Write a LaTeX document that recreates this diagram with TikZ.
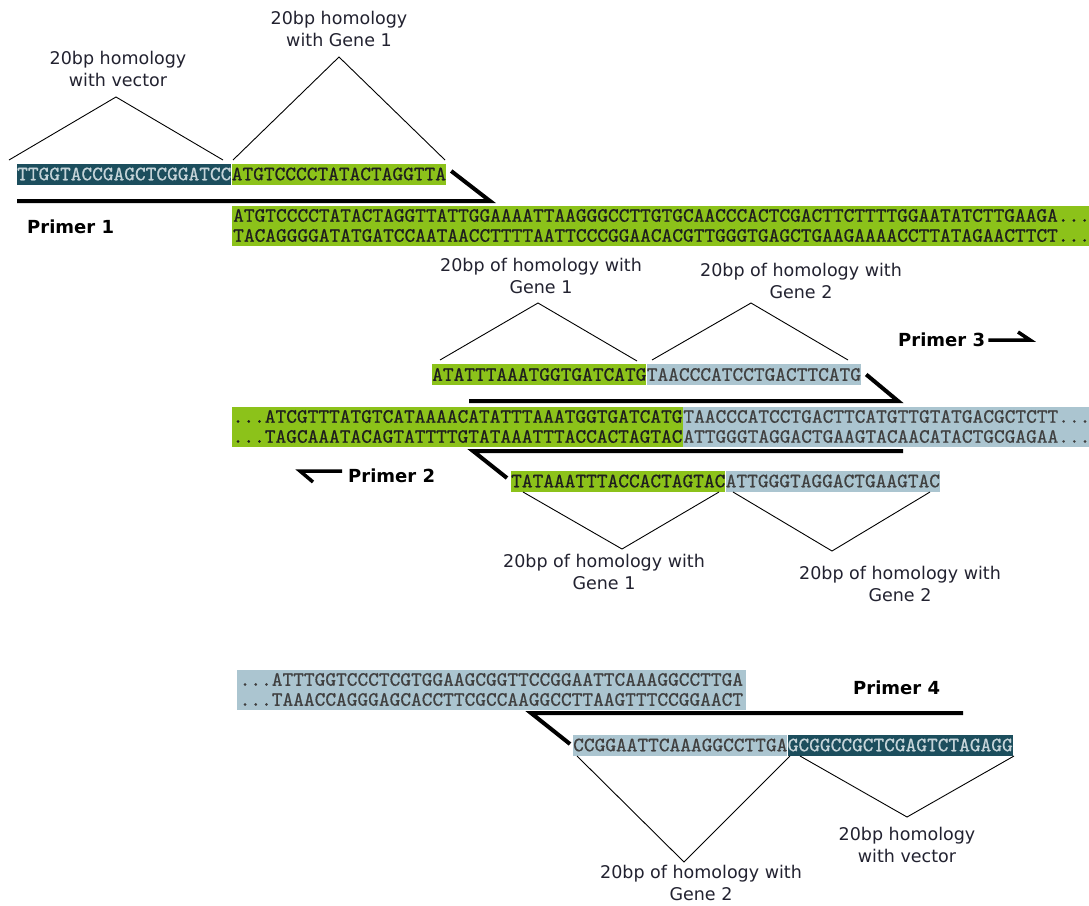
\documentclass[tikz,border=0pt]{standalone}
\usepackage{fontspec}
\setmainfont{DejaVu Sans}
\newfontfamily\seqfont[FakeBold=0.6]{lmmono10-regular.otf}
\newfontfamily\lblfont{DejaVu Sans}
\usetikzlibrary{calc}
\definecolor{gr}{HTML}{8CC21A}
\definecolor{bl}{HTML}{ABC5D0}
\definecolor{tl}{HTML}{1C4E5D}
\definecolor{tltext}{HTML}{C5D4D9}
\definecolor{seqdark}{HTML}{1E1E1E}
\definecolor{lblcol}{HTML}{222230}
\begin{document}
\begin{tikzpicture}[x=1pt,y=-1pt,
  sqf/.style={font=\seqfont\fontsize{20.4}{20}\selectfont},
  oligo/.style={sqf, anchor=west, inner sep=0pt, minimum height=21pt, text height=12.5pt, text depth=0pt, text=seqdark},
  band/.style={sqf, anchor=west, inner ysep=0pt, minimum height=40pt, align=left, text=seqdark},
  lbl/.style={font=\lblfont\fontsize{17.5}{22}\selectfont, align=center, inner sep=0pt, text=lblcol},
  prlbl/.style={font=\lblfont\bfseries\fontsize{18}{22}\selectfont, inner sep=0pt, anchor=west, text=black},
  tri/.style={draw=black, line width=0.9pt},
  primer/.style={draw=black, line width=4pt, line join=miter, line cap=butt},
  harp/.style={draw=black, line width=3.5pt, line join=miter, line cap=butt}
]
\useasboundingbox (0,0) rectangle (1089,905);
\fill[white] (0,0) rectangle (1089,905);

% ---------- Section 1 ----------
\node[lbl] (l1) at (118,69) {20bp homology\\with vector};
\node[lbl] (l2) at (339,29) {20bp homology\\with Gene 1};
\coordinate (t1a) at (9,160);   \coordinate (t1p) at (116,97);  \coordinate (t1b) at (223,160);
\coordinate (t2a) at (233,160); \coordinate (t2p) at (339,57);  \coordinate (t2b) at (445,160);
\draw[tri] (t1a) -- (t1p) -- (t1b);
\draw[tri] (t2a) -- (t2p) -- (t2b);
\node[oligo, fill=tl, text=tltext] (v1) at (17,174) {TTGGTACCGAGCTCGGATCC};
\node[oligo, fill=gr] (g1) at (v1.east) {ATGTCCCCTATACTAGGTTA};
\coordinate (p1tip) at (490,201);
\coordinate (p1end) at (17,201);
\draw[primer] ($(g1.east)+(5,-3)$) -- (p1tip) -- (p1end);
\node[prlbl] (pr1) at (27,227) {Primer 1};
\node[band, fill=gr, inner xsep=1pt, text width=880pt] (b1) at (232,225.5)
  {\mbox{ATGTCCCCTATACTAGGTTATTGGAAAATTAAGGGCCTTGTGCAACCCACTCGACTTCTTTTGGAATATCTTGAAGA...}\\
   \mbox{TACAGGGGATATGATCCAATAACCTTTTAATTCCCGGAACACGTTGGGTGAGCTGAAGAAAACCTTATAGAACTTCT...}};

% ---------- Section 2 ----------
\node[lbl] (l3) at (541,276) {20bp of homology with\\Gene 1};
\node[lbl] (l4) at (801,281) {20bp of homology with\\Gene 2};
\coordinate (t3a) at (440,360); \coordinate (t3p) at (538,303); \coordinate (t3b) at (637,361);
\coordinate (t4a) at (652,360); \coordinate (t4p) at (751,303); \coordinate (t4b) at (848,360);
\draw[tri] (t3a) -- (t3p) -- (t3b);
\draw[tri] (t4a) -- (t4p) -- (t4b);
\node[oligo, fill=gr] (g2) at (432,374.5) {ATATTTAAATGGTGATCATG};
\node[oligo, fill=bl, text=seqdark!85] (b2) at (g2.east) {TAACCCATCCTGACTTCATG};
\coordinate (p3tip) at (898,401);
\coordinate (p3end) at (469,401);
\draw[primer] ($(b2.east)+(5,0)$) -- (p3tip) -- (p3end);
\node[prlbl] (pr3) at (898,340) {Primer 3};
\coordinate (a3tip) at (1030,340);
\draw[harp] ($(pr3.east)+(3,0)$) -- (a3tip) -- ($(a3tip)+(-12,-8)$);

\node[band, fill=gr, inner xsep=0.5pt] (bm1) at (232,426.5)
  {\mbox{...ATCGTTTATGTCATAAAACATATTTAAATGGTGATCATG}\\
   \mbox{...TAGCAAATACAGTATTTTGTATAAATTTACCACTAGTAC}};
\node[band, fill=bl, inner xsep=0pt, text width=430pt, text=seqdark!85] (bm2) at (bm1.east)
  {\mbox{TAACCCATCCTGACTTCATGTTGTATGACGCTCTT...}\\
   \mbox{ATTGGGTAGGACTGAAGTACAACATACTGCGAGAA...}};

\node[oligo, fill=gr] (g3) at (511,481) {TATAAATTTACCACTAGTAC};
\node[oligo, fill=bl, text=seqdark!85] (b3) at (g3.east) {ATTGGGTAGGACTGAAGTAC};
\coordinate (p2tip) at (473,451);
\coordinate (p2end) at (903,451);
\draw[primer] ($(g3.west)+(-4,-3)$) -- (p2tip) -- (p2end);
\node[prlbl] (pr2) at (348,476) {Primer 2};
\coordinate (a2tip) at (300,471);
\draw[harp] ($(pr2.west)+(-6,-5)$) -- (a2tip) -- ($(a2tip)+(13,11)$);

\coordinate (t5a) at (523,492); \coordinate (t5p) at (622,549); \coordinate (t5b) at (719,492);
\coordinate (t6a) at (733,492); \coordinate (t6p) at (832,551); \coordinate (t6b) at (930,492);
\draw[tri] (t5a) -- (t5p) -- (t5b);
\draw[tri] (t6a) -- (t6p) -- (t6b);
\node[lbl] (l5) at (604,572) {20bp of homology with\\Gene 1};
\node[lbl] (l6) at (900,584) {20bp of homology with\\Gene 2};

% ---------- Section 3 ----------
\node[band, fill=bl, inner xsep=2.5pt, text width=504pt, text=seqdark!85] (b4) at (237,689.5)
  {\mbox{...ATTTGGTCCCTCGTGGAAGCGGTTCCGGAATTCAAAGGCCTTGA}\\
   \mbox{...TAAACCAGGGAGCACCTTCGCCAAGGCCTTAAGTTTCCGGAACT}};
\node[prlbl] (pr4) at (853,688) {Primer 4};
\node[oligo, fill=bl, text=seqdark!85] (b5) at (573,745) {CCGGAATTCAAAGGCCTTGA};
\node[oligo, fill=tl, text=tltext] (v2) at (b5.east) {GCGGCCGCTCGAGTCTAGAGG};
\coordinate (p4tip) at (531,713);
\coordinate (p4end) at (963,713);
\draw[primer] ($(b5.west)+(-3,-1)$) -- (p4tip) -- (p4end);
\coordinate (t7a) at (577,756); \coordinate (t7p) at (684,862); \coordinate (t7b) at (790,756);
\coordinate (t8a) at (800,756); \coordinate (t8p) at (907,817); \coordinate (t8b) at (1014,756);
\draw[tri] (t7a) -- (t7p) -- (t7b);
\draw[tri] (t8a) -- (t8p) -- (t8b);
\node[lbl] (l7) at (701,883) {20bp of homology with\\Gene 2};
\node[lbl] (l8) at (907,845) {20bp homology\\with vector};
\end{tikzpicture}
\end{document}
